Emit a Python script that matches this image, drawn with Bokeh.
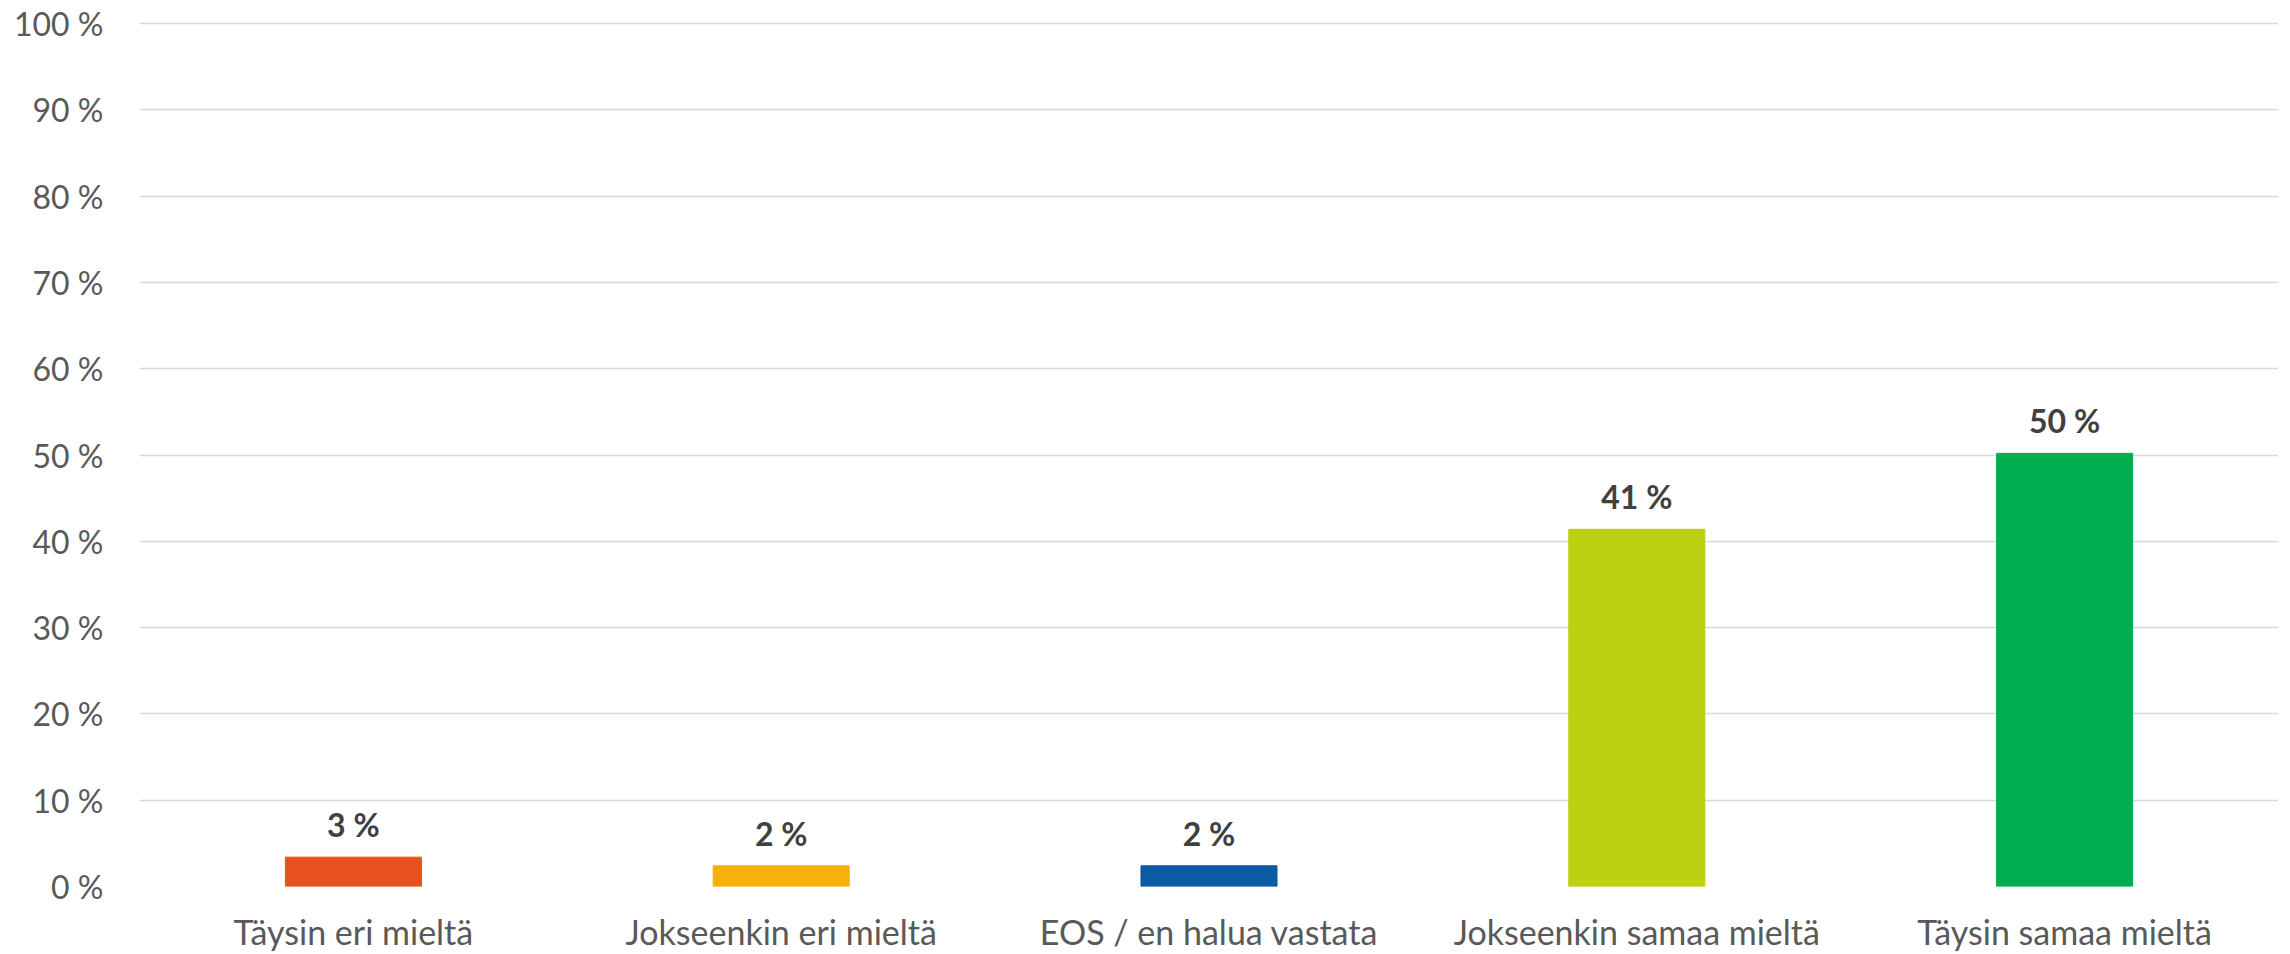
from bokeh.plotting import figure
from bokeh.models import ColumnDataSource, FactorRange, Range1d, FixedTicker, LabelSet
from bokeh.core.properties import value
from bokeh.embed import file_html
from bokeh.resources import INLINE

categories = ["Täysin eri mieltä", "Jokseenkin eri mieltä", "EOS / en halua vastata",
              "Jokseenkin samaa mieltä", "Täysin samaa mieltä"]
values = [3.4, 2.4, 2.4, 41.4, 50.2]
value_labels = ["3 %", "2 %", "2 %", "41 %", "50 %"]
colors = ["#E8501D", "#F8B00F", "#0B5AA4", "#BDD012", "#00AE50"]
y_ticks = [0, 10, 20, 30, 40, 50, 60, 70, 80, 90, 100]
y_tick_labels = [f"{t} %" for t in y_ticks]

FONT = "Lato"

src = ColumnDataSource(dict(cat=categories, val=values, lab=value_labels, col=colors))

p = figure(x_range=FactorRange(*categories, range_padding=0), y_range=Range1d(0, 100.25),
           width=2290, height=954, output_backend="svg", toolbar_location=None,
           min_border_left=139, min_border_right=12, min_border_top=21, min_border_bottom=68)
p.outline_line_color = None
p.background_fill_color = "white"
p.border_fill_color = "white"

p.vbar(x="cat", top="val", width=0.318, color="col", source=src)

labels = LabelSet(x="cat", y="val", text="lab", source=src, text_align="center",
                  text_baseline="alphabetic", y_offset=20, text_font=value(FONT),
                  text_font_size="32px", text_font_style="bold", text_color="#404040")
p.add_layout(labels)

p.yaxis.ticker = FixedTicker(ticks=y_ticks)
p.yaxis.major_label_overrides = {t: l for t, l in zip(y_ticks, y_tick_labels)}
for ax in (p.xaxis[0], p.yaxis[0]):
    ax.axis_line_color = None
    ax.major_tick_line_color = None
    ax.minor_tick_line_color = None
    ax.major_tick_out = 0
    ax.major_tick_in = 0
    ax.minor_tick_out = 0
    ax.major_label_text_font = FONT
    ax.major_label_text_color = "#595959"
p.yaxis.major_label_text_font_size = "32px"
p.xaxis.major_label_text_font_size = "34px"
p.yaxis.major_label_standoff = 36
p.xaxis.major_label_standoff = 24

p.xgrid.grid_line_color = None
p.ygrid.grid_line_color = "#D9D9D9"
p.ygrid.grid_line_width = 1.5
p.ygrid.ticker = FixedTicker(ticks=y_ticks)

open("out.html", "w").write(file_html(p, INLINE))
